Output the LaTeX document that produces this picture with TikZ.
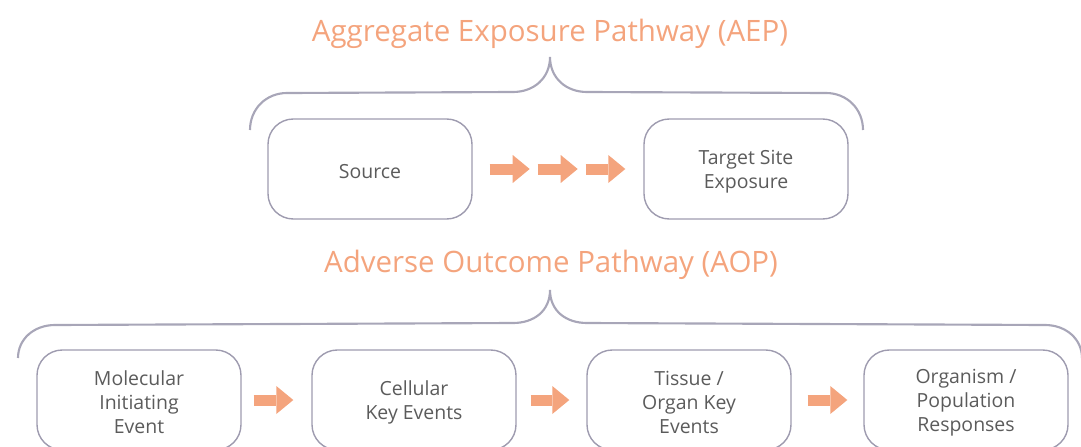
\documentclass[tikz,border=0pt]{standalone}
\usepackage{fontspec}
\setmainfont{Open Sans}
\usetikzlibrary{arrows.meta,calc}
\definecolor{salmon}{HTML}{F4A47D}
\definecolor{txt}{HTML}{5B5B5B}
\definecolor{boxline}{HTML}{9E9BAF}
\definecolor{bracecol}{HTML}{A8A6B8}
\begin{document}
\begin{tikzpicture}[x=0.75pt,y=-0.75pt,
  box/.style={draw=boxline, line width=1.05pt, rounded corners=19pt, minimum width=153pt, minimum height=75pt, inner sep=0pt},
  boxtext/.style={inner sep=0pt, align=center, text=txt, font=\fontsize{14.6}{18}\selectfont},
  ttl/.style={text=salmon, font=\fontsize{22.1}{26}\selectfont, inner sep=0pt},
  brc/.style={draw=bracecol, line width=1.6pt},
  fat/.style={draw=salmon, line width=8.25pt, -{Triangle[length=12.75pt,width=21pt,line width=0pt]}}
]
\useasboundingbox (0,0) rectangle (1081,446);
\clip (0,0) rectangle (1081,446);

% titles
\node[ttl] (aep) at (550,34) {Aggregate Exposure Pathway (AEP)};
\node[ttl] (aop) at (551,265) {Adverse Outcome Pathway (AOP)};

% braces
\draw[brc] (250,130) .. controls (250,109) and (266,93) .. (287,93) -- (513,92)
  .. controls (534,92) and (550,78) .. (550,57)
  .. controls (550,78) and (566,92) .. (587,92) -- (826,93)
  .. controls (847,93) and (863,109) .. (863,130);
\draw[brc] (18,358) .. controls (18,339) and (34,325) .. (55,325) -- (513,323)
  .. controls (534,323) and (550,311) .. (550,290)
  .. controls (550,311) and (566,323) .. (587,323) -- (1045,325)
  .. controls (1066,325) and (1082,339) .. (1082,358);

% top boxes
\node[box] (src) at (370,169) {};
\node[box] (tgt) at (746,169) {};
\node[boxtext] (srct) at ($(src)+(0,2.5)$) {Source};
\node[boxtext] (tgtt) at ($(tgt)+(0,2.5)$) {Target Site\\Exposure};

% bottom boxes
\node[box] (mie) at (139,400) {};
\node[box] (cke) at (414,400) {};
\node[box] (tok) at (689,400) {};
\node[box] (opr) at (966,400) {};
\node[boxtext] (miet) at ($(mie)+(0,2.5)$) {Molecular\\Initiating\\Event};
\node[boxtext] (ckett) at ($(cke)+(0,2.5)$) {Cellular\\Key Events};
\node[boxtext] (tokt) at ($(tok)+(0,2.5)$) {Tissue /\\Organ Key\\Events};
\node[boxtext] (oprt) at ($(opr)+(0,2.5)$) {Organism /\\Population\\Responses};

% top arrows
\draw[fat] ($(src.east)+(17,0)$) -- ++(40,0);
\draw[fat] ($(src.east)+(65,0)$) -- ++(40,0);
\draw[fat] ($(src.east)+(113,0)$) -- ($(tgt.west)+(-18,0)$);

% bottom arrows
\draw[fat] ($(mie.east)+(12,0)$) -- ($(cke.west)+(-18,0)$);
\draw[fat] ($(cke.east)+(14,0)$) -- ($(tok.west)+(-17,0)$);
\draw[fat] ($(tok.east)+(16,0)$) -- ($(opr.west)+(-16,0)$);
\end{tikzpicture}
\end{document}
